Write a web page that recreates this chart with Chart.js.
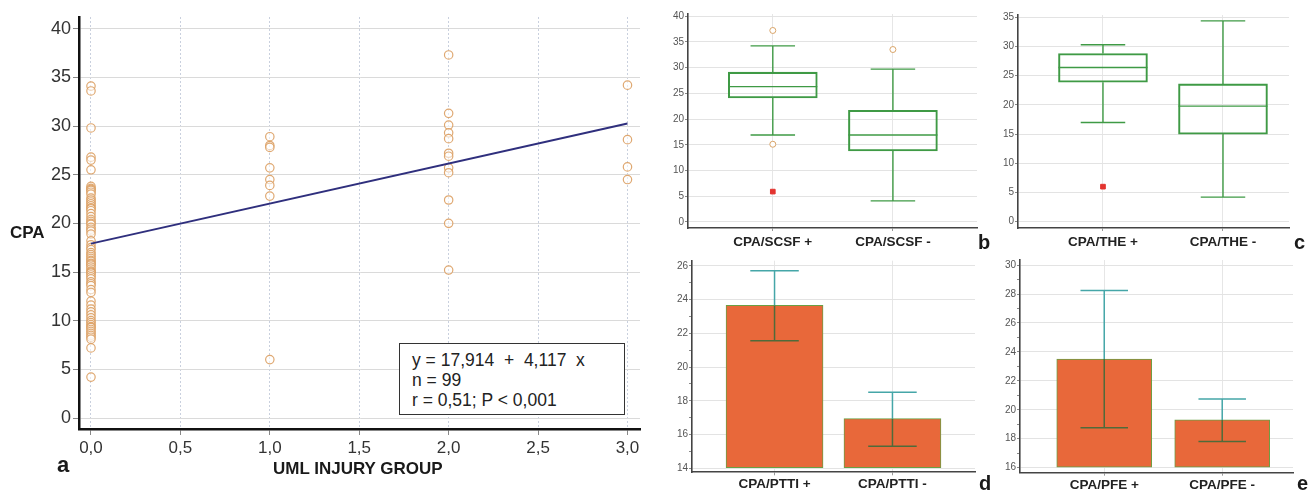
<!DOCTYPE html>
<html>
<head>
<meta charset="utf-8">
<title>CPA vs UML injury group</title>
<script src="https://cdn.jsdelivr.net/npm/chart.js@4.4.1/dist/chart.umd.min.js"></script>
<style>
  body { margin: 0; background: #fff; width: 1316px; height: 490px; overflow: hidden; position: relative;
         font-family: "Liberation Sans", Arial, sans-serif; }
  canvas { position: absolute; }
  .lbl { position: absolute; font-weight: bold; color: #1a1a1a; white-space: nowrap; line-height: 1; z-index: 2; }
  .stats { position: absolute; left: 399px; top: 343px; width: 226px; height: 72px; border: 1.5px solid #333;
           background: #fff; font-size: 17.5px; line-height: 20px; color: #222; padding: 6px 0 0 12px;
           box-sizing: border-box; white-space: pre; z-index: 2; }
</style>
</head>
<body>
<canvas id="chartA" width="660" height="490" style="left:0;top:0"></canvas>
<canvas id="chartB" width="330" height="250" style="left:660px;top:0"></canvas>
<canvas id="chartC" width="326" height="250" style="left:990px;top:0"></canvas>
<canvas id="chartD" width="330" height="240" style="left:660px;top:250px"></canvas>
<canvas id="chartE" width="326" height="240" style="left:990px;top:250px"></canvas>

<div class="lbl" style="left:10px;top:224px;font-size:17px">CPA</div>
<div class="lbl" style="left:273px;top:460px;font-size:17px">UML INJURY GROUP</div>
<div class="lbl" style="left:57px;top:454px;font-size:22px">a</div>
<div class="lbl" style="left:978px;top:232px;font-size:20px">b</div>
<div class="lbl" style="left:1294px;top:232px;font-size:20px">c</div>
<div class="lbl" style="left:979px;top:473px;font-size:20px">d</div>
<div class="lbl" style="left:1297px;top:473px;font-size:20px">e</div>
<div class="stats" id="stats"></div>

<script>
// ---- panel a: CPA by UML injury group ----
const umlGroups = [0, 1, 2, 3];
const cpaGroup0 = [34.1, 33.6, 29.8, 26.8, 26.5, 25.5, 23.8, 23.6, 23.5, 23.4, 23.2, 23.0, 22.6, 22.4, 22.2,
  22.0, 21.8, 21.6, 21.5, 21.3, 21.0, 20.7, 20.4, 20.2, 20.0, 19.9, 19.6, 19.4, 19.2, 18.9, 18.2, 17.8, 17.5,
  17.3, 17.0, 16.8, 16.6, 16.4, 16.2, 16.1, 15.9, 15.8, 15.7, 15.5, 15.3, 15.1, 15.0, 14.9, 14.7, 14.5, 14.3,
  14.0, 13.8, 13.6, 13.2, 12.9, 12.0, 11.6, 11.2, 10.9, 10.6, 10.3, 10.0, 9.8, 9.6, 9.4, 9.3, 9.1, 8.9, 8.7,
  8.5, 8.3, 8.1, 7.2, 4.2];
const cpaGroup1 = [28.9, 28.0, 27.8, 25.7, 24.5, 23.9, 22.8, 6.0];
const cpaGroup2 = [37.3, 31.3, 30.1, 29.3, 28.7, 27.2, 26.9, 25.7, 25.2, 22.4, 20.0, 15.2];
const cpaGroup3 = [34.2, 28.6, 25.8, 24.5];
const fitX = [0, 3];
const fitY = [17.914, 30.265];
const aXTicks = [0, 0.5, 1, 1.5, 2, 2.5, 3];
const aYTicks = [0, 5, 10, 15, 20, 25, 30, 35, 40];
const statLines = ["y = 17,914  +  4,117  x", "n = 99", "r = 0,51; P < 0,001"];

// ---- panel b: CPA by SCSF (box plot) ----
const scsfCats = ["CPA/SCSF +", "CPA/SCSF -"];
const scsfQ1 = [24.1, 13.8];
const scsfMedian = [26.3, 16.9];
const scsfQ3 = [29.1, 21.7];
const scsfLow = [16.9, 4.1];
const scsfHigh = [34.2, 29.7];
const scsfOutX = [1, 1, 2];
const scsfOutY = [37.2, 15.1, 33.5];
const scsfFarX = [1];
const scsfFarY = [5.9];
const scsfYTicks = [0, 5, 10, 15, 20, 25, 30, 35, 40];

// ---- panel c: CPA by THE (box plot) ----
const theCats = ["CPA/THE +", "CPA/THE -"];
const theQ1 = [23.9, 15.0];
const theMedian = [26.4, 19.8];
const theQ3 = [28.8, 23.6];
const theLow = [17.0, 4.2];
const theHigh = [30.3, 34.4];
const theOutX = [];
const theOutY = [];
const theFarX = [1];
const theFarY = [6.0];
const theYTicks = [0, 5, 10, 15, 20, 25, 30, 35];

// ---- panel d: CPA by PTTI (mean + CI) ----
const pttiCats = ["CPA/PTTI +", "CPA/PTTI -"];
const pttiMean = [23.65, 16.94];
const pttiLow = [21.55, 15.3];
const pttiHigh = [25.7, 18.5];
const pttiYTicks = [14, 15, 16, 17, 18, 19, 20, 21, 22, 23, 24, 25, 26];

// ---- panel e: CPA by PFE (mean + CI) ----
const pfeCats = ["CPA/PFE +", "CPA/PFE -"];
const pfeMean = [23.5, 19.3];
const pfeLow = [18.75, 17.8];
const pfeHigh = [28.25, 20.75];
const pfeYTicks = [16, 17, 18, 19, 20, 21, 22, 23, 24, 25, 26, 27, 28, 29, 30];

Chart.defaults.font.family = '"Liberation Sans", Arial, sans-serif';
Chart.defaults.animation = false;
Chart.defaults.plugins.legend.display = false;
Chart.defaults.plugins.tooltip.enabled = false;

document.getElementById("stats").textContent = statLines.join("\n");

function fixedTicks(values) {
  return (scale) => { scale.ticks = values.map((v) => ({ value: v })); };
}

// whiskers + median for the box datasets
const boxWhiskers = {
  id: "boxWhiskers",
  afterDatasetsDraw(chart) {
    const ds = chart.data.datasets[0];
    if (!ds.median) return;
    const meta = chart.getDatasetMeta(0);
    const y = chart.scales.y;
    const ctx = chart.ctx;
    ctx.save();
    ctx.strokeStyle = ds.borderColor;
    ctx.lineWidth = 1.4;
    meta.data.forEach((bar, i) => {
      const half = bar.width / 2;
      const yMed = y.getPixelForValue(ds.median[i]);
      const yQ1 = y.getPixelForValue(ds.q1[i]);
      const yQ3 = y.getPixelForValue(ds.q3[i]);
      const yLo = y.getPixelForValue(ds.low[i]);
      const yHi = y.getPixelForValue(ds.high[i]);
      ctx.beginPath();
      ctx.moveTo(bar.x - half, yMed); ctx.lineTo(bar.x + half, yMed);
      ctx.moveTo(bar.x, yQ3); ctx.lineTo(bar.x, yHi);
      ctx.moveTo(bar.x - half / 2, yHi); ctx.lineTo(bar.x + half / 2, yHi);
      ctx.moveTo(bar.x, yQ1); ctx.lineTo(bar.x, yLo);
      ctx.moveTo(bar.x - half / 2, yLo); ctx.lineTo(bar.x + half / 2, yLo);
      ctx.stroke();
    });
    ctx.restore();
  }
};

// error bars for the mean bars
const errorBars = {
  id: "errorBars",
  afterDatasetsDraw(chart) {
    const ds = chart.data.datasets[0];
    if (!ds.errLow) return;
    const meta = chart.getDatasetMeta(0);
    const y = chart.scales.y;
    const ctx = chart.ctx;
    ctx.save();
    ctx.lineWidth = 1.5;
    meta.data.forEach((bar, i) => {
      const cap = bar.width / 4;
      const yTop = y.getPixelForValue(ds.data[i].y);
      const yLo = y.getPixelForValue(ds.errLow[i]);
      const yHi = y.getPixelForValue(ds.errHigh[i]);
      ctx.strokeStyle = "#45a6a8";
      ctx.beginPath();
      ctx.moveTo(bar.x, yHi); ctx.lineTo(bar.x, yTop);
      ctx.moveTo(bar.x - cap, yHi); ctx.lineTo(bar.x + cap, yHi);
      ctx.stroke();
      ctx.strokeStyle = "#4f6b3a";
      ctx.beginPath();
      ctx.moveTo(bar.x, yTop); ctx.lineTo(bar.x, yLo);
      ctx.moveTo(bar.x - cap, yLo); ctx.lineTo(bar.x + cap, yLo);
      ctx.stroke();
    });
    ctx.restore();
  }
};

// ---- chart a ----
const cpaGroups = [cpaGroup0, cpaGroup1, cpaGroup2, cpaGroup3];
const scatterPoints = [];
umlGroups.forEach((g, i) => cpaGroups[i].forEach((v) => scatterPoints.push({ x: g, y: v })));

new Chart(document.getElementById("chartA"), {
  type: "scatter",
  data: {
    datasets: [
      {
        type: "line",
        data: fitX.map((x, i) => ({ x, y: fitY[i] })),
        borderColor: "#2f2f7d",
        borderWidth: 2,
        pointRadius: 0,
        fill: false
      },
      {
        data: scatterPoints,
        pointRadius: 4.2,
        pointBorderWidth: 1.2,
        borderColor: "rgba(220,158,98,0.9)",
        backgroundColor: "rgba(255,255,255,0.55)"
      }
    ]
  },
  options: {
    responsive: false,
    layout: { padding: { top: 17, right: 20, left: 0, bottom: 0 } },
    scales: {
      x: {
        type: "linear",
        min: -0.067,
        max: 3.07,
        afterBuildTicks: fixedTicks(aXTicks),
        afterFit: (s) => { s.height = 61; },
        ticks: { font: { size: 17 }, color: "#333", padding: 3,
                 callback: (v) => v.toFixed(1).replace(".", ",") },
        grid: { color: "#c9d0de", lineWidth: 1, tickLength: 6, tickColor: "#888" },
        border: { color: "#111", width: 2.5, dash: [2, 2] }
      },
      y: {
        min: -1.13,
        max: 41.2,
        afterBuildTicks: fixedTicks(aYTicks),
        afterFit: (s) => { s.width = 79; },
        ticks: { font: { size: 18 }, color: "#333", padding: 2 },
        grid: { color: "#dadada", lineWidth: 1, tickLength: 6, tickColor: "#888" },
        border: { color: "#111", width: 2.5 }
      }
    }
  }
});

// ---- box charts (b, c) ----
function makeBoxChart(id, cfg) {
  new Chart(document.getElementById(id), {
    type: "bar",
    data: {
      datasets: [
        {
          data: cfg.q1.map((q, i) => ({ x: i + 1, y: [q, cfg.q3[i]] })),
          q1: cfg.q1, q3: cfg.q3, median: cfg.median, low: cfg.low, high: cfg.high,
          backgroundColor: "rgba(255,255,255,0)",
          borderColor: "#3f9a45",
          borderWidth: 1.4,
          borderSkipped: false,
          barThickness: 89
        },
        {
          type: "scatter",
          data: cfg.outX.map((x, i) => ({ x, y: cfg.outY[i] })),
          pointRadius: 3,
          pointBorderWidth: 1,
          borderColor: "#d9a56a",
          backgroundColor: "#fff"
        },
        {
          type: "scatter",
          data: cfg.farX.map((x, i) => ({ x, y: cfg.farY[i] })),
          pointStyle: "rect",
          pointRadius: 3.3,
          borderColor: "#e3342f",
          backgroundColor: "#e3342f"
        }
      ]
    },
    options: {
      responsive: false,
      layout: { padding: { top: cfg.top, right: cfg.right, left: 0, bottom: 0 } },
      scales: {
        x: {
          type: "linear",
          offset: false,
          min: cfg.xMin,
          max: cfg.xMax,
          afterBuildTicks: fixedTicks([1, 2]),
          afterFit: (s) => { s.height = cfg.xHeight; },
          ticks: { font: { size: 13.5, weight: "bold" }, color: "#222", padding: 3,
                   callback: (v) => cfg.cats[v - 1] },
          grid: { offset: false, color: "#e6e6e6", tickLength: 3, tickColor: "#999" },
          border: { color: "#444", width: 1.6 }
        },
        y: {
          min: cfg.yMin,
          max: cfg.yMax,
          afterBuildTicks: fixedTicks(cfg.yTicks),
          afterFit: (s) => { s.width = cfg.yWidth; },
          ticks: { font: { size: 10 }, color: "#555", padding: 1 },
          grid: { color: "#e3e3e3", tickLength: 3, tickColor: "#888" },
          border: { color: "#444", width: 1.6 }
        }
      }
    },
    plugins: [boxWhiskers]
  });
}

makeBoxChart("chartB", {
  cats: scsfCats, q1: scsfQ1, q3: scsfQ3, median: scsfMedian, low: scsfLow, high: scsfHigh,
  outX: scsfOutX, outY: scsfOutY, farX: scsfFarX, farY: scsfFarY, yTicks: scsfYTicks,
  yMin: -1.17, yMax: 40.4, xMin: 0.294, xMax: 2.70,
  top: 14, right: 13, yWidth: 28, xHeight: 22
});

makeBoxChart("chartC", {
  cats: theCats, q1: theQ1, q3: theQ3, median: theMedian, low: theLow, high: theHigh,
  outX: theOutX, outY: theOutY, farX: theFarX, farY: theFarY, yTicks: theYTicks,
  yMin: -1.08, yMax: 35.4, xMin: 0.292, xMax: 2.55,
  top: 15, right: 27, yWidth: 28, xHeight: 22
});

// ---- mean bar charts (d, e) ----
function makeMeanChart(id, cfg) {
  new Chart(document.getElementById(id), {
    type: "bar",
    data: {
      datasets: [
        {
          data: cfg.mean.map((m, i) => ({ x: i + 1, y: m })),
          errLow: cfg.low, errHigh: cfg.high,
          base: cfg.base,
          backgroundColor: "#e8683a",
          borderColor: "#6a9f45",
          borderWidth: 1,
          borderSkipped: false,
          barThickness: cfg.barWidth
        }
      ]
    },
    options: {
      responsive: false,
      layout: { padding: { top: cfg.top, right: cfg.right, left: 0, bottom: 0 } },
      scales: {
        x: {
          type: "linear",
          offset: false,
          min: cfg.xMin,
          max: cfg.xMax,
          afterBuildTicks: fixedTicks([1, 2]),
          afterFit: (s) => { s.height = cfg.xHeight; },
          ticks: { font: { size: 13.5, weight: "bold" }, color: "#222", padding: 1,
                   callback: (v) => cfg.cats[v - 1] },
          grid: { offset: false, color: "#e6e6e6", tickLength: 3, tickColor: "#999" },
          border: { color: "#444", width: 1.6 }
        },
        y: {
          min: cfg.yMin,
          max: cfg.yMax,
          afterBuildTicks: fixedTicks(cfg.yTicks),
          afterFit: (s) => { s.width = cfg.yWidth; },
          ticks: { font: { size: 10 }, color: "#555", padding: 1,
                   callback: (v) => (v % 2 === 0 ? v : "") },
          grid: {
            color: (c) => (c.tick && c.tick.value % 2 !== 0 ? "rgba(0,0,0,0)" : "#e3e3e3"),
            tickLength: 3, tickColor: "#888"
          },
          border: { color: "#444", width: 1.6 }
        }
      }
    },
    plugins: [errorBars]
  });
}

makeMeanChart("chartD", {
  cats: pttiCats, mean: pttiMean, low: pttiLow, high: pttiHigh, yTicks: pttiYTicks, base: 14,
  yMin: 13.76, yMax: 26.3, xMin: 0.3, xMax: 2.7,
  top: 10.7, right: 15, yWidth: 32, xHeight: 17.7, barWidth: 97
});

makeMeanChart("chartE", {
  cats: pfeCats, mean: pfeMean, low: pfeLow, high: pfeHigh, yTicks: pfeYTicks, base: 16,
  yMin: 15.65, yMax: 30.35, xMin: 0.286, xMax: 2.6,
  top: 10, right: 23, yWidth: 30, xHeight: 17.3, barWidth: 95
});
</script>
</body>
</html>
